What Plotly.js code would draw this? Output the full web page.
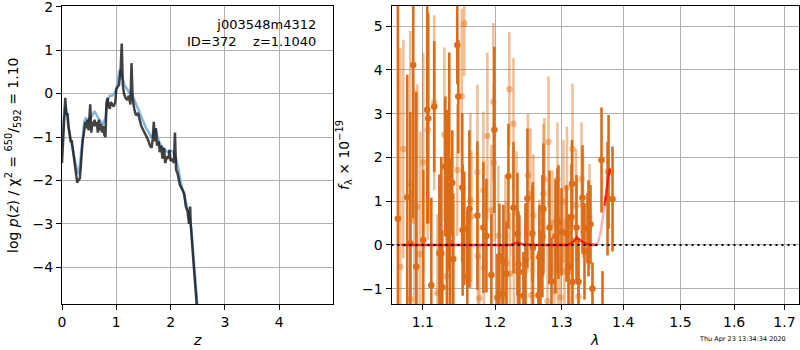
<!DOCTYPE html>
<html>
<head>
<meta charset="utf-8">
<script src="https://cdn.plot.ly/plotly-3.0.1.min.js"></script>
<style>html,body{margin:0;padding:0;background:#fff;}#chart{width:800px;height:350px;}</style>
</head>
<body>
<div id="chart"></div>
<script>
// ---- Left panel: log p(z) ----
const zDark = [0.00,0.02,0.04,0.06,0.08,0.10,0.12,0.14,0.16,0.18,0.20,0.22,0.25,0.28,0.30,0.33,0.35,0.38,0.41,0.43,0.45,0.47,0.49,0.51,0.52,0.54,0.56,0.58,0.60,0.62,0.64,0.66,0.68,0.70,0.72,0.74,0.76,0.78,0.80,0.82,0.84,0.86,0.88,0.90,0.92,0.95,0.98,1.00,1.02,1.05,1.08,1.10,1.12,1.14,1.17,1.20,1.23,1.26,1.28,1.30,1.33,1.36,1.40,1.43,1.46,1.50,1.54,1.58,1.62,1.65,1.67,1.69,1.71,1.73,1.75,1.78,1.80,1.83,1.85,1.88,1.90,1.93,1.96,1.98,2.00,2.03,2.06,2.08,2.10,2.13,2.17,2.21,2.25,2.28,2.31,2.34,2.36,2.37,2.40,2.44,2.48,2.52];
const logpDark = [-1.6,-1.0,-0.6,-0.1,-0.5,-0.45,-0.75,-0.9,-1.1,-1.1,-1.3,-1.5,-1.75,-2.05,-2.0,-1.95,-1.6,-1.1,-0.85,-0.65,-0.8,-0.6,-0.85,-0.55,-0.25,-0.9,-0.65,-0.75,-0.6,-0.75,-0.65,-0.9,-0.6,-0.85,-0.7,-0.9,-0.75,-0.95,-1.0,-0.2,-0.1,-0.3,-0.35,-0.2,-0.25,-0.3,-0.2,0.1,0.15,0.2,0.55,1.15,0.2,0.0,-0.1,-0.15,-0.05,-0.25,0.7,-0.1,-0.35,-0.5,-0.45,-0.6,-0.75,-0.85,-0.95,-1.05,-1.2,-1.25,-1.05,-0.65,-1.1,-0.8,-1.2,-1.1,-1.35,-1.2,-1.5,-1.25,-1.6,-1.45,-1.5,-1.3,-1.55,-1.5,-1.6,-0.9,-1.75,-1.85,-2.1,-2.2,-2.3,-2.6,-2.7,-3.0,-2.6,-3.0,-3.6,-4.2,-4.85,-5.5];
const zBlue = [0.00,0.03,0.06,0.09,0.12,0.15,0.18,0.22,0.26,0.29,0.32,0.35,0.38,0.41,0.44,0.48,0.52,0.56,0.60,0.64,0.68,0.72,0.76,0.80,0.84,0.88,0.92,0.96,1.00,1.03,1.06,1.09,1.12,1.15,1.20,1.25,1.30,1.35,1.40,1.45,1.50,1.55,1.60,1.64,1.68,1.72,1.76,1.80,1.85,1.90,1.95,2.00,2.05,2.10,2.14,2.18,2.22,2.26,2.30,2.34,2.38,2.42,2.46,2.50,2.54];
const logpBlue = [-1.2,-0.6,-0.3,-0.45,-0.8,-1.0,-1.2,-1.45,-1.7,-1.85,-1.75,-1.4,-0.95,-0.65,-0.55,-0.65,-0.55,-0.5,-0.4,-0.5,-0.6,-0.65,-0.7,-0.55,-0.15,-0.05,-0.05,0.0,0.1,0.3,0.55,0.45,0.3,0.2,0.1,0.0,-0.05,-0.2,-0.35,-0.5,-0.65,-0.8,-0.9,-1.0,-0.95,-0.8,-1.0,-1.15,-1.25,-1.3,-1.35,-1.3,-1.35,-1.5,-1.7,-2.0,-2.2,-2.35,-2.55,-2.8,-3.1,-3.8,-4.4,-5.0,-5.6];

// ---- Right panel: spectrum ----
const lamDark = [1.0675,1.0796,1.0835,1.0874,1.0914,1.1006,1.1059,1.1072,1.1113,1.1152,1.1221,1.1248,1.1261,1.1302,1.1329,1.1356,1.1370,1.1397,1.1411,1.1466,1.1480,1.1535,1.1540,1.1563,1.1605,1.1634,1.1747,1.1832,1.1875,1.1946,1.1989,1.2033,1.2062,1.2106,1.2121,1.2165,1.2194,1.2268,1.2327,1.2342,1.2356,1.2416,1.2446,1.2476,1.2551,1.2559,1.2642,1.2657,1.2673,1.2703,1.2719,1.2812,1.2843,1.2904,1.2935,1.2951,1.2998,1.3077,1.3108,1.3156,1.3164,1.3172,1.3235,1.3267,1.3331,1.3363,1.3411,1.3428,1.3460,1.3492,1.3640,1.3656,1.3739,1.3756,1.3822];
const fluxDark = [0.6,1.09,0.04,4.11,-0.5,0.11,3.09,2.89,-0.92,3.16,-0.19,-0.19,-0.97,1.79,0.69,1.9,0.04,1.42,-0.32,4.57,3.39,1.31,0.34,0.38,-0.72,0.82,0.67,0.4,0.21,-0.69,2.63,-1.21,-0.26,-1.12,-0.38,-0.66,1.57,0.85,0.25,-0.44,-0.62,-1.16,-0.35,1.06,0.26,-0.07,-1.15,-0.28,-0.67,0.2,0.82,0.4,-0.83,0.2,0.55,0.52,0.3,0.26,-0.5,0.64,1.4,-0.85,0.4,-0.84,1.08,-0.15,0.38,0.38,0.47,-1.0,1.94,-1.6,1.06,1.67,1.05];
const errDark = [5.5,2.8,3.0,3.5,4.0,1.6,2.6,2.4,2.0,1.5,1.8,2.2,1.3,1.6,2.4,2.5,1.8,1.2,1.5,0.9,1.3,1.7,1.5,1.3,1.5,1.8,1.7,1.5,1.3,1.4,1.9,1.0,1.2,1.1,1.3,1.2,1.2,1.5,1.4,1.2,1.3,1.0,1.3,1.6,1.1,1.5,1.0,1.2,1.0,1.4,1.5,1.3,1.0,1.3,1.2,1.3,1.0,1.1,1.2,1.2,1.0,1.0,1.2,1.0,1.2,1.1,0.8,1.1,0.9,0.6,1.2,1.0,1.3,1.3,1.2];
const lamLight = [1.0706,1.0745,1.0835,1.0840,1.0887,1.0927,1.0967,1.1006,1.1066,1.1152,1.1193,1.1289,1.1316,1.1466,1.1528,1.1563,1.1648,1.1662,1.1747,1.1754,1.1775,1.1832,1.1839,1.1889,1.1946,1.1975,1.1982,1.2048,1.2150,1.2165,1.2208,1.2216,1.2268,1.2275,1.2312,1.2327,1.2446,1.2484,1.2521,1.2536,1.2566,1.2657,1.2719,1.2734,1.2781,1.2796,1.2858,1.2889,1.2935,1.2943,1.2982,1.3029,1.3045,1.3084,1.3140,1.3172,1.3227,1.3267,1.3315,1.3339,1.3444];
const fluxLight = [-0.5,2.19,1.39,-1.24,0.55,0.87,-0.21,1.89,2.62,3.25,-1.1,2.52,-0.72,1.71,3.4,5.06,1.02,0.65,1.66,-0.26,-1.22,1.25,-0.52,2.49,0.79,3.27,1.88,0.21,0.2,-0.42,3.56,-0.66,2.77,-1.42,0.74,-0.6,-0.6,1.59,1.16,-1.15,0.67,-0.26,1.17,1.5,-1.29,2.35,0.5,-1.06,1.5,-0.57,-1.2,0.99,-0.6,1.3,-0.6,2.19,0.9,-1.18,1.5,0.9,0.65];
const errLight = [5.0,2.5,3.5,2.5,3.0,2.8,2.8,2.5,2.5,2.0,1.8,2.0,1.7,1.5,2.0,1.2,2.0,1.5,2.0,1.5,1.2,1.8,1.6,1.9,1.5,1.8,1.8,1.6,1.4,1.4,1.3,1.4,1.5,1.2,1.4,1.4,1.2,1.4,1.5,1.2,1.4,1.3,1.6,1.4,1.3,1.5,1.2,1.1,1.3,1.2,1.0,1.4,1.2,1.4,1.2,1.5,1.3,1.1,1.3,1.2,1.2];
const modelLamA = [1.072,1.10,1.15,1.20,1.222,1.232,1.242,1.26,1.29,1.31,1.318,1.324,1.330,1.338,1.346,1.356];
const modelFluxA = [0,0,0,0,0,0.05,0.01,0,0,0,0.06,0.17,0.1,0.03,0.01,0];
const modelLamB = [1.354,1.358,1.362,1.366,1.370];
const modelFluxB = [0,0.05,0.25,0.6,1.0];
const modelLamC = [1.369,1.372,1.375,1.378];
const modelFluxC = [0.9,1.25,1.55,1.75];

const zTicks = [0,1,2,3,4];
const pTicks = [-4,-3,-2,-1,0,1,2];
const lamTicks = [1.1,1.2,1.3,1.4,1.5,1.6,1.7];
const lamTickText = ['1.1','1.2','1.3','1.4','1.5','1.6','1.7'];
const fTicks = [-1,0,1,2,3,4,5];

const ORANGE = 'rgb(219,108,24)';
const ORANGE_L = 'rgba(225,112,22,0.45)';
const FONT = 'DejaVu Sans, sans-serif';

const traces = [
  {x: zBlue, y: logpBlue, xaxis:'x', yaxis:'y', mode:'lines', line:{color:'rgb(135,182,220)', width:2.5}, hoverinfo:'skip'},
  {x: zDark, y: logpDark, xaxis:'x', yaxis:'y', mode:'lines', line:{color:'rgba(20,20,20,0.8)', width:2.5}, hoverinfo:'skip'},
  {x: lamLight, y: fluxLight, xaxis:'x2', yaxis:'y2', mode:'markers',
   marker:{color:ORANGE_L, size:6.5}, error_y:{type:'data', array:errLight, color:ORANGE_L, thickness:2.6, width:0}},
  {x: lamDark, y: fluxDark, xaxis:'x2', yaxis:'y2', mode:'markers',
   marker:{color:ORANGE, size:6.5}, error_y:{type:'data', array:errDark, color:ORANGE, thickness:2.6, width:0}},
  {x: modelLamA, y: modelFluxA, xaxis:'x2', yaxis:'y2', mode:'lines', line:{color:'rgba(255,0,0,0.75)', width:2.5}},
  {x: modelLamB, y: modelFluxB, xaxis:'x2', yaxis:'y2', mode:'lines', line:{color:'rgba(255,0,0,0.3)', width:2.5}},
  {x: modelLamC, y: modelFluxC, xaxis:'x2', yaxis:'y2', mode:'lines', line:{color:'rgba(255,0,0,0.75)', width:2.5}}
];

const axisBase = {
  showline:true, mirror:true, linecolor:'black', linewidth:1,
  ticks:'outside', ticklen:5, tickwidth:1, tickcolor:'black',
  showgrid:true, gridcolor:'#b0b0b0', gridwidth:1, zeroline:false,
  ticklabeloverflow:'allow',
  tickfont:{family:FONT, size:14, color:'black'}
};
const minusLabel = v => v < 0 ? '\u2212' + Math.abs(v) : String(v);

const layout = {
  width:800, height:350,
  margin:{l:0, r:0, t:0, b:0},
  paper_bgcolor:'white', plot_bgcolor:'white',
  showlegend:false,
  xaxis: Object.assign({}, axisBase, {domain:[62/800, 333/800], range:[0,4.99], tickmode:'array', tickvals:zTicks, anchor:'y'}),
  yaxis: Object.assign({}, axisBase, {domain:[1-304/350, 1-6/350], range:[-4.845,2.016], tickmode:'array', tickvals:pTicks, ticktext:pTicks.map(minusLabel), anchor:'x'}),
  xaxis2: Object.assign({}, axisBase, {domain:[391.5/800, 799/800], type:'log', range:[Math.log10(1.0593), Math.log10(1.730)], tickmode:'array', tickvals:lamTicks, ticktext:lamTickText, anchor:'y2'}),
  yaxis2: Object.assign({}, axisBase, {domain:[1-304/350, 1-6/350], range:[-1.35,5.46], tickmode:'array', tickvals:fTicks, ticktext:fTicks.map(minusLabel), anchor:'x2'}),
  shapes:[
    {type:'line', xref:'x2 domain', yref:'y2', x0:0, x1:1, y0:0, y1:0, layer:'above',
     line:{color:'black', width:2, dash:'2px,4px'}}
  ],
  annotations:[
    {xref:'paper', yref:'paper', x:318/800, y:1-15/350, xanchor:'right', yanchor:'top', align:'right', showarrow:false,
     text:'j003548m4312<br>ID=372\u00a0\u00a0\u00a0\u00a0z=1.1040', font:{family:FONT, size:13, color:'black'}},
    {xref:'paper', yref:'paper', x:197/800, y:1-340/350, xanchor:'center', yanchor:'middle', showarrow:false,
     text:'<i>z</i>', font:{family:FONT, size:14, color:'black'}},
    {xref:'paper', yref:'paper', x:594/800, y:1-340/350, xanchor:'center', yanchor:'middle', showarrow:false,
     text:'<i>λ</i>', font:{family:FONT, size:14, color:'black'}},
    {xref:'paper', yref:'paper', x:13/800, y:1-155/350, xanchor:'center', yanchor:'middle', showarrow:false, textangle:-90,
     text:'log <i>p</i>(<i>z</i>) / χ<sup>2</sup> = <sup>650</sup>/<sub>592</sub> = 1.10', font:{family:FONT, size:14, color:'black'}},
    {xref:'paper', yref:'paper', x:344/800, y:1-155/350, xanchor:'center', yanchor:'middle', showarrow:false, textangle:-90,
     text:'<i>f</i><sub>λ</sub> × 10<sup>−19</sup>', font:{family:FONT, size:14, color:'black'}},
    {xref:'paper', yref:'paper', x:788/800, y:1-339/350, xanchor:'right', yanchor:'middle', showarrow:false,
     text:'Thu Apr 23 13:34:34 2020', font:{family:FONT, size:6.5, color:'black'}}
  ]
};

Plotly.newPlot('chart', traces, layout, {staticPlot:true, displayModeBar:false});
</script>
</body>
</html>
